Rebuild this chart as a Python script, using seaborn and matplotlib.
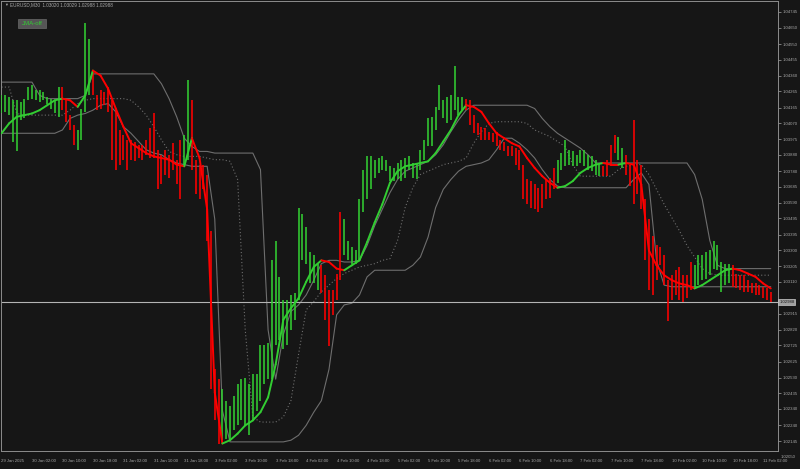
import numpy as np
import pandas as pd
import matplotlib
matplotlib.use('Agg')
import matplotlib.pyplot as plt
import seaborn as sns
from matplotlib.patches import Rectangle

# chart header
symbol = 'EURUSD,M30'
quote = ['1.03020', '1.03029', '1.02988', '1.02988']
last_price = 1.02988

# hourly price ranges (high / low), from 29 Jan 18:00
bar_high = [
    1.0424, 1.0424, 1.0423, 1.0421, 1.0421, 1.0420, 1.0422, 1.0429, 1.0430, 1.0427,
    1.0427, 1.0426, 1.0423, 1.0422, 1.0421, 1.0429, 1.0429, 1.0422, 1.0412, 1.0406,
    1.0403, 1.0416, 1.0468, 1.0458, 1.0439, 1.0424, 1.0427, 1.0426, 1.0429, 1.0421,
    1.0415, 1.0403, 1.0400, 1.0397, 1.0397, 1.0396, 1.0394, 1.0394, 1.0397, 1.0404,
    1.0413, 1.0391, 1.0388, 1.0391, 1.0388, 1.0395, 1.0385, 1.0397, 1.0400, 1.0433,
    1.0421, 1.0385, 1.0382, 1.0382, 1.0376, 1.0342, 1.0258, 1.0252, 1.0246, 1.0239,
    1.0236, 1.0242, 1.0249, 1.0252, 1.0253, 1.0249, 1.0255, 1.0255, 1.0273, 1.0273,
    1.0274, 1.0324, 1.0336, 1.0314, 1.0300, 1.0300, 1.0303, 1.0304, 1.0356, 1.0352,
    1.0344, 1.0329, 1.0327, 1.0322, 1.0321, 1.0315, 1.0306, 1.0306, 1.0316, 1.0353,
    1.0349, 1.0336, 1.0332, 1.0330, 1.0361, 1.0379, 1.0387, 1.0387, 1.0385, 1.0386,
    1.0387, 1.0385, 1.0381, 1.0380, 1.0383, 1.0385, 1.0386, 1.0387, 1.0383, 1.0383,
    1.0391, 1.0397, 1.0410, 1.0411, 1.0417, 1.0430, 1.0421, 1.0423, 1.0424, 1.0442,
    1.0423, 1.0423, 1.0422, 1.0421, 1.0412, 1.0407, 1.0405, 1.0404, 1.0402, 1.0401,
    1.0402, 1.0397, 1.0396, 1.0393, 1.0393, 1.0392, 1.0391, 1.0382, 1.0373, 1.0372,
    1.0370, 1.0368, 1.0370, 1.0373, 1.0374, 1.0380, 1.0385, 1.0389, 1.0397, 1.0391,
    1.0390, 1.0388, 1.0391, 1.0391, 1.0388, 1.0387, 1.0385, 1.0383, 1.0381, 1.0385,
    1.0394, 1.0400, 1.0399, 1.0392, 1.0388, 1.0382, 1.0409, 1.0385, 1.0382, 1.0361,
    1.0349, 1.0339, 1.0333, 1.0332, 1.0327, 1.0312, 1.0315, 1.0318, 1.0320, 1.0315,
    1.0315, 1.0323, 1.0321, 1.0327, 1.0327, 1.0329, 1.0330, 1.0336, 1.0333, 1.0323,
    1.0322, 1.0322, 1.0321, 1.0316, 1.0315, 1.0315, 1.0312, 1.0310, 1.0310, 1.0309,
    1.0308, 1.0307, 1.0305,
]
bar_low = [
    1.0413, 1.0414, 1.0412, 1.0396, 1.0390, 1.0409, 1.0410, 1.0421, 1.0422, 1.0421,
    1.0420, 1.0421, 1.0419, 1.0416, 1.0413, 1.0411, 1.0415, 1.0408, 1.0403, 1.0394,
    1.0391, 1.0397, 1.0414, 1.0424, 1.0424, 1.0415, 1.0416, 1.0418, 1.0414, 1.0385,
    1.0379, 1.0382, 1.0385, 1.0379, 1.0385, 1.0384, 1.0386, 1.0385, 1.0388, 1.0386,
    1.0386, 1.0367, 1.0370, 1.0376, 1.0374, 1.0379, 1.0370, 1.0361, 1.0382, 1.0385,
    1.0379, 1.0364, 1.0361, 1.0367, 1.0336, 1.0246, 1.0227, 1.0213, 1.0215, 1.0216,
    1.0215, 1.0221, 1.0224, 1.0227, 1.0224, 1.0218, 1.0227, 1.0233, 1.0239, 1.0249,
    1.0252, 1.0252, 1.0273, 1.0276, 1.0270, 1.0273, 1.0282, 1.0288, 1.0300, 1.0324,
    1.0322, 1.0310, 1.0310, 1.0306, 1.0304, 1.0288, 1.0272, 1.0291, 1.0300, 1.0312,
    1.0327, 1.0324, 1.0322, 1.0322, 1.0324, 1.0353, 1.0361, 1.0367, 1.0374, 1.0377,
    1.0379, 1.0378, 1.0372, 1.0372, 1.0373, 1.0372, 1.0374, 1.0379, 1.0374, 1.0373,
    1.0379, 1.0385, 1.0393, 1.0393, 1.0403, 1.0415, 1.0410, 1.0407, 1.0409, 1.0415,
    1.0412, 1.0415, 1.0415, 1.0406, 1.0401, 1.0400, 1.0397, 1.0397, 1.0397, 1.0396,
    1.0393, 1.0391, 1.0390, 1.0387, 1.0387, 1.0382, 1.0379, 1.0361, 1.0358, 1.0356,
    1.0355, 1.0353, 1.0356, 1.0361, 1.0362, 1.0367, 1.0371, 1.0379, 1.0381, 1.0382,
    1.0381, 1.0381, 1.0383, 1.0381, 1.0379, 1.0378, 1.0376, 1.0375, 1.0375, 1.0375,
    1.0381, 1.0389, 1.0385, 1.0380, 1.0376, 1.0369, 1.0358, 1.0364, 1.0355, 1.0324,
    1.0306, 1.0303, 1.0312, 1.0321, 1.0309, 1.0287, 1.0300, 1.0303, 1.0300, 1.0299,
    1.0301, 1.0306, 1.0307, 1.0309, 1.0312, 1.0313, 1.0315, 1.0319, 1.0318, 1.0305,
    1.0309, 1.0310, 1.0308, 1.0307, 1.0306, 1.0305, 1.0305, 1.0304, 1.0303, 1.0303,
    1.0301, 1.0300, 1.0299,
]

# indicator lines, one value every 2 hours
jma = [
    1.0401, 1.0407, 1.0411, 1.0412, 1.0413, 1.0415, 1.0418, 1.0421, 1.0422, 1.0421,
    1.0417, 1.0424, 1.0439, 1.0436, 1.0428, 1.0416, 1.0405, 1.0395, 1.0392, 1.0389,
    1.0387, 1.0386, 1.0385, 1.0382, 1.0381, 1.0398, 1.0386, 1.0355, 1.0244, 1.0213,
    1.0215, 1.0219, 1.0224, 1.0227, 1.0232, 1.0241, 1.0261, 1.0288, 1.0295, 1.0301,
    1.0311, 1.0320, 1.0324, 1.0323, 1.0319, 1.0318, 1.0321, 1.0324, 1.0335, 1.0347,
    1.0358, 1.0371, 1.0378, 1.0381, 1.0382, 1.0383, 1.0384, 1.0389, 1.0396, 1.0403,
    1.0412, 1.0418, 1.0417, 1.0414, 1.0407, 1.0401, 1.0398, 1.0395, 1.0393, 1.0386,
    1.0380, 1.0375, 1.0371, 1.0368, 1.0369, 1.0372, 1.0377, 1.0380, 1.0382, 1.0383,
    1.0382, 1.0382, 1.0383, 1.0382, 1.0370, 1.0330, 1.0321, 1.0315, 1.0312, 1.0310,
    1.0309, 1.0307, 1.0309, 1.0312, 1.0315, 1.0318, 1.0319, 1.0318, 1.0316, 1.0314,
    1.0310, 1.0307,
]
band_upper = [
    1.0432, 1.0432, 1.0432, 1.0432, 1.0432, 1.0424, 1.0422, 1.0422, 1.0422, 1.0422,
    1.0422, 1.0424, 1.0437, 1.0437, 1.0437, 1.0437, 1.0437, 1.0437, 1.0437, 1.0437,
    1.0437, 1.0431, 1.0422, 1.0411, 1.0398, 1.0393, 1.0390, 1.0390, 1.0389, 1.0389,
    1.0389, 1.0389, 1.0389, 1.0389, 1.0379, 1.0282, 1.0252, 1.0279, 1.0293, 1.0297,
    1.0303, 1.0312, 1.0322, 1.0324, 1.0324, 1.0323, 1.0323, 1.0324, 1.0333, 1.0345,
    1.0355, 1.0365, 1.0373, 1.0378, 1.0380, 1.0382, 1.0384, 1.0388, 1.0394, 1.0402,
    1.0409, 1.0415, 1.0418, 1.0418, 1.0418, 1.0418, 1.0418, 1.0418, 1.0418, 1.0418,
    1.0416, 1.0410, 1.0405, 1.0401, 1.0398, 1.0395, 1.0392, 1.0388, 1.0383, 1.0383,
    1.0383, 1.0383, 1.0383, 1.0383, 1.0383, 1.0383, 1.0383, 1.0383, 1.0383, 1.0383,
    1.0383, 1.0376, 1.0361, 1.0336, 1.0321, 1.0319, 1.0319, 1.0319, 1.0319, 1.0319,
    1.0319, 1.0319,
]
band_mid = [
    1.0429, 1.0429, 1.0413, 1.0412, 1.0412, 1.0412, 1.0412, 1.0412, 1.0412, 1.0415,
    1.0419, 1.0421, 1.0422, 1.0422, 1.0422, 1.0422, 1.0422, 1.0421, 1.0417, 1.0412,
    1.0405, 1.0397, 1.0390, 1.0388, 1.0387, 1.0387, 1.0387, 1.0386, 1.0385, 1.0385,
    1.0384, 1.0373, 1.0282, 1.0229, 1.0226, 1.0226, 1.0226, 1.0229, 1.0239, 1.0267,
    1.0294, 1.0299, 1.0305, 1.0309, 1.0313, 1.0316, 1.0318, 1.0320, 1.0321, 1.0322,
    1.0324, 1.0325, 1.0336, 1.0356, 1.0368, 1.0376, 1.0378, 1.0380, 1.0382, 1.0383,
    1.0384, 1.0386, 1.0395, 1.0402, 1.0407, 1.0408, 1.0408, 1.0408, 1.0408, 1.0407,
    1.0403, 1.0401, 1.0399, 1.0396, 1.0393, 1.0382, 1.0375, 1.0375, 1.0375, 1.0375,
    1.0375, 1.0379, 1.0381, 1.0382, 1.0382, 1.0376, 1.0367, 1.0358, 1.0350, 1.0342,
    1.0333, 1.0326, 1.0319, 1.0316, 1.0315, 1.0315, 1.0315, 1.0315, 1.0315, 1.0315,
    1.0315, 1.0315,
]
band_lower = [
    1.0401, 1.0401, 1.0401, 1.0401, 1.0401, 1.0401, 1.0401, 1.0401, 1.0403, 1.0410,
    1.0412, 1.0413, 1.0415, 1.0418, 1.0419, 1.0414, 1.0405, 1.0401, 1.0396, 1.0391,
    1.0389, 1.0388, 1.0385, 1.0383, 1.0382, 1.0381, 1.0381, 1.0381, 1.0349, 1.0233,
    1.0214, 1.0214, 1.0214, 1.0214, 1.0214, 1.0214, 1.0214, 1.0214, 1.0215, 1.0218,
    1.0224, 1.0232, 1.0239, 1.0258, 1.0291, 1.0297, 1.0298, 1.0303, 1.0314, 1.0318,
    1.0318, 1.0318, 1.0318, 1.0318, 1.0321, 1.0326, 1.0338, 1.0356, 1.0367, 1.0373,
    1.0378, 1.0381, 1.0382, 1.0383, 1.0385, 1.0391, 1.0398, 1.0398, 1.0395, 1.0391,
    1.0386, 1.0379, 1.0373, 1.0369, 1.0368, 1.0368, 1.0368, 1.0368, 1.0368, 1.0368,
    1.0368, 1.0368, 1.0368, 1.0373, 1.0377, 1.0370, 1.0324, 1.0309, 1.0308, 1.0308,
    1.0308, 1.0308, 1.0308, 1.0308, 1.0308, 1.0308, 1.0308, 1.0308, 1.0308, 1.0308,
    1.0308, 1.0308,
]

# right scale; 1.03010 sits under the price box in the terminal
price_labels = [
    1.04745, 1.04650, 1.04550, 1.04455, 1.04360, 1.04265, 1.04165, 1.04070,
    1.03975, 1.03880, 1.03780, 1.03685, 1.03590, 1.03495, 1.03395, 1.03300,
    1.03205, 1.03110, 1.02915, 1.02820, 1.02725, 1.02625, 1.02530,
    1.02435, 1.02340, 1.02240, 1.02145, 1.02050,
]

# bar times (trading hours only, weekend skipped)
times = pd.date_range('2025-01-29 18:00', periods=400, freq='h')
times = times[times.dayofweek < 5][:len(bar_high)]
hours = np.arange(len(bar_high))
line_hours = hours[::2]

BG = '#161616'
GREEN = '#32cd32'
RED = '#ff0000'
GRID = '#8c8c8c'
TXT = '#a8a8a8'
FS = 3.1

sns.set_theme(style='dark', rc={'axes.facecolor': BG, 'figure.facecolor': BG})
plt.rcParams['font.family'] = ['Liberation Sans', 'DejaVu Sans']

fig = plt.figure(figsize=(8, 4.69), dpi=100)
ax = fig.add_axes([1 / 800, 18 / 469, 777 / 800, 450 / 469])
ax.set_facecolor(BG)

# candle colour follows the JMA direction
jma_arr = np.array(jma)
rising = np.diff(jma_arr) > 0
seg = np.minimum(hours // 2, len(rising) - 1)
bar_cols = [GREEN if rising[s] else RED for s in seg]

# gray channel lines
sns.lineplot(x=line_hours, y=band_upper, ax=ax, color='#6e6e6e', linewidth=0.8)
sns.lineplot(x=line_hours, y=band_lower, ax=ax, color='#6e6e6e', linewidth=0.8)
sns.lineplot(x=line_hours, y=band_mid, ax=ax, color='#6e6e6e', linewidth=0.8,
             linestyle=(0, (1, 2)))

# candles
ax.vlines(hours, bar_low, bar_high, colors=bar_cols, linewidth=1.15, zorder=3)

# JMA line, green when rising, red when falling
for k in range(len(rising)):
    ax.plot(line_hours[k:k + 2], jma_arr[k:k + 2], color=GREEN if rising[k] else RED,
            linewidth=1.4, solid_capstyle='round', zorder=4)

# current price line
ax.axhline(last_price, color='#b4b4b4', linewidth=0.8, zorder=2)

ax.set_xlim(-0.13, 203.9)
ax.set_ylim(1.020847, 1.048116)

# x axis: a label every 8 hours
tick_idx = [i for i, t in enumerate(times) if t.hour % 8 == 2]
tick_lab = []
for i in tick_idx:
    t = times[i]
    if i == 0:
        tick_lab.append(f'{t.day} {t:%b %Y}')
    else:
        tick_lab.append(f'{t.day} {t:%b %H:%M}')
ax.set_xticks(tick_idx)
ax.set_xticklabels(tick_lab, ha='left')
ax.tick_params(axis='x', length=3, width=0.6, color=GRID, direction='out',
               pad=3, labelsize=FS, labelcolor=TXT)

# y axis on the right
ax.yaxis.tick_right()
in_range = [p for p in price_labels if p >= 1.020847]
ax.set_yticks(in_range)
ax.set_yticklabels([f'{p:.5f}' for p in in_range])
ax.tick_params(axis='y', length=2.5, width=0.6, color=GRID, direction='out',
               pad=1, labelsize=FS, labelcolor=TXT)
for p in price_labels:
    if p < 1.020847:
        ax.text(1.0035, p, f'{p:.5f}', transform=ax.get_yaxis_transform(),
                fontsize=FS, color=TXT, va='center', ha='left', clip_on=False)

ax.grid(False)
for s in ax.spines.values():
    s.set_color(GRID)
    s.set_linewidth(0.7)

# price box on the axis
ax.text(1.0015, last_price, f'{last_price:.5f}', transform=ax.get_yaxis_transform(),
        fontsize=FS, color='#1a1a1a', va='center', ha='left', clip_on=False, zorder=6,
        bbox=dict(boxstyle='square,pad=0.25', facecolor='#a0a0a0', edgecolor='#c8c8c8',
                  linewidth=0.5))

# header
fig.text(4 / 800, 1 - 5 / 469, '\u25bc', fontsize=2.8, color=TXT, va='center', ha='left')
fig.text(10 / 800, 1 - 5 / 469, symbol + '  ' + ' '.join(quote), fontsize=3.3,
         color=TXT, va='center', ha='left')

# JMA-off button
fig.patches.append(Rectangle((18 / 800, 1 - 28 / 469), 28 / 800, 9 / 469,
                             transform=fig.transFigure, facecolor='#555555',
                             edgecolor='#6a6a6a', linewidth=0.5))
fig.text(32 / 800, 1 - 23.5 / 469, 'JMA-off', fontsize=4.4, color=GREEN,
         va='center', ha='center')

fig.savefig('out.png', dpi=100, facecolor=BG)
